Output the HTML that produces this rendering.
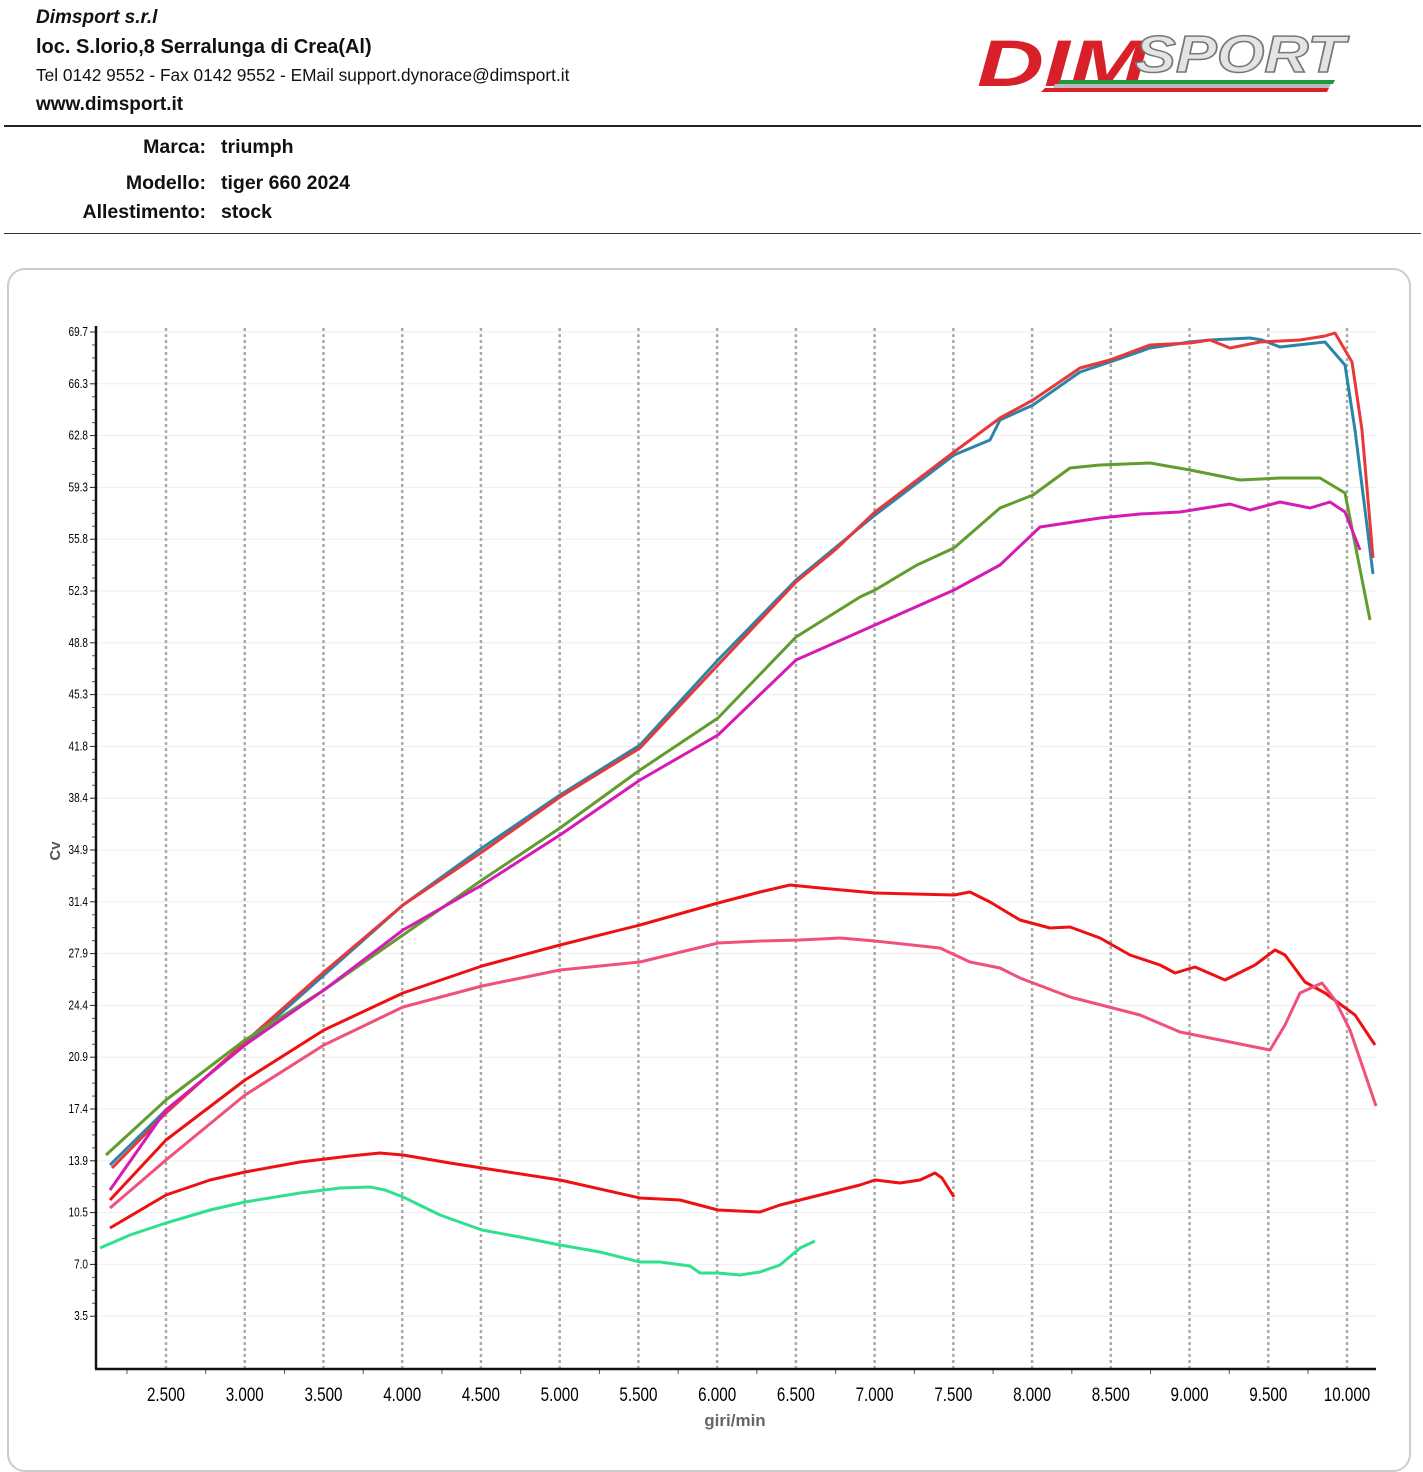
<!DOCTYPE html>
<html><head><meta charset="utf-8"><style>
body{margin:0;width:1423px;height:1440px;background:#fff;position:relative;overflow:hidden;font-family:"Liberation Sans",sans-serif;color:#111}
.t{position:absolute;white-space:nowrap}
</style></head><body>
<div class="t" style="left:36px;top:7px;font-size:19px;font-weight:bold;font-style:italic">Dimsport s.r.l</div>
<div class="t" style="left:36px;top:36px;font-size:20px;font-weight:bold">loc. S.lorio,8 Serralunga di Crea(Al)</div>
<div class="t" style="left:36px;top:65px;font-size:17.3px">Tel 0142 9552 - Fax 0142 9552 - EMail support.dynorace@dimsport.it</div>
<div class="t" style="left:36px;top:94px;font-size:19px;font-weight:bold">www.dimsport.it</div>
<svg style="position:absolute;left:975px;top:22px" width="380" height="75">
<text x="2" y="64" font-family="Liberation Sans" font-weight="bold" font-style="italic" font-size="66" fill="#d8202a" textLength="170" lengthAdjust="spacingAndGlyphs">DIM</text>
<text x="160" y="50" font-family="Liberation Sans" font-weight="bold" font-style="italic" font-size="52" fill="#e4e4e4" stroke="#777" stroke-width="1.5" textLength="210" lengthAdjust="spacingAndGlyphs">SPORT</text>
<polygon points="85,58 360,58 358,62 83,62" fill="#1f9a3a"/>
<polygon points="80,62 356,62 354,66 78,66" fill="#bbb"/>
<polygon points="70,66 354,66 352,70 66,70" fill="#d8202a"/>
</svg>
<div style="position:absolute;left:4px;top:125px;width:1417px;height:2px;background:#222"></div>
<div class="t" style="left:0;width:206px;text-align:right;top:136px;font-size:19.5px;font-weight:bold">Marca:</div>
<div class="t" style="left:221px;top:136px;font-size:19.5px;font-weight:bold">triumph</div>
<div class="t" style="left:0;width:206px;text-align:right;top:172px;font-size:19.5px;font-weight:bold">Modello:</div>
<div class="t" style="left:221px;top:172px;font-size:19.5px;font-weight:bold">tiger 660 2024</div>
<div class="t" style="left:0;width:206px;text-align:right;top:201px;font-size:19.5px;font-weight:bold">Allestimento:</div>
<div class="t" style="left:221px;top:201px;font-size:19.5px;font-weight:bold">stock</div>
<div style="position:absolute;left:4px;top:233px;width:1417px;height:1px;background:#333"></div>
<div style="position:absolute;left:7px;top:268px;width:1400px;height:1200px;border:2px solid #ccc;border-radius:18px"></div>
<svg id="c" style="position:absolute;left:0;top:0" width="1423" height="1440" font-family="Liberation Sans"></svg>
<script>
const s=document.getElementById('c');let h='';
const yv=[69.7,66.3,62.8,59.3,55.8,52.3,48.8,45.3,41.8,38.4,34.9,31.4,27.9,24.4,20.9,17.4,13.9,10.5,7.0,3.5];
yv.forEach((v,i)=>{const y=332+i*51.8;h+=`<line x1="96" y1="${y}" x2="1376" y2="${y}" stroke="#eee"/><line x1="90" y1="${y}" x2="96" y2="${y}" stroke="#222"/><text x="88" y="${y+4}" font-size="12.5" text-anchor="end" transform="scale(0.8,1)" style="transform-origin:88px ${y}px">${v.toFixed(1)}</text>`;
for(let k=1;k<4&&i<19;k++){const yy=y+k*12.95;h+=`<line x1="92" y1="${yy}" x2="96" y2="${yy}" stroke="#555"/>`;}});
for(let r=2500;r<=10000;r+=500){const x=166+(r-2500)*0.15747;h+=`<line x1="${x}" y1="328" x2="${x}" y2="1368" stroke="#aaa" stroke-width="2.5" stroke-dasharray="3,3"/><text x="${x}" y="1401" font-size="19" text-anchor="middle" transform="scale(0.8,1)" style="transform-origin:${x}px 1400px">${(r/1000).toFixed(3)}</text><line x1="${x-39}" y1="1369" x2="${x-39}" y2="1374" stroke="#555"/>`;}
h+=`<line x1="96" y1="326" x2="96" y2="1369" stroke="#111" stroke-width="2.5"/><line x1="95" y1="1369" x2="1376" y2="1369" stroke="#111" stroke-width="2.5"/>`;
h+=`<text x="735" y="1426" font-size="17" font-weight="bold" fill="#666" text-anchor="middle">giri/min</text><text x="60" y="851" font-size="15" font-weight="bold" fill="#555" text-anchor="middle" transform="rotate(-90 60 851)">Cv</text>`;
const L=(c,p)=>{h+=`<polyline fill="none" stroke="${c}" stroke-width="3" stroke-linejoin="round" points="${p}"/>`;};
L('#2a86a8','110,1165 166,1110 245,1045 324,975 403,905 482,848 560,795 640,745 718,660 796,580 875,515 954,455 990,440 1000,420 1033,405 1080,372 1110,362 1150,348 1190,342 1210,340 1250,338 1262,340 1280,347 1325,342 1345,365 1355,430 1373,574');
L('#e8383c','112,1168 166,1113 245,1042 324,972 403,905 482,852 560,797 640,748 718,665 796,582 835,550 875,512 954,452 1000,418 1033,400 1080,368 1110,360 1150,345 1190,343 1210,340 1230,348 1260,342 1300,340 1325,336 1335,333 1352,362 1362,430 1373,558');
L('#5f9e2e','106,1155 166,1100 245,1040 324,990 403,935 482,880 560,828 640,770 718,718 796,637 860,597 875,590 917,565 954,548 1000,508 1033,495 1070,468 1100,465 1150,463 1190,470 1240,480 1280,478 1320,478 1345,493 1370,620');
L('#d61bb5','110,1190 166,1110 245,1045 324,990 403,930 482,885 560,835 640,780 718,735 796,660 875,625 954,590 1000,565 1040,527 1100,518 1140,514 1180,512 1230,504 1250,510 1280,502 1310,508 1330,502 1345,512 1360,550');
L('#ee1111','110,1200 166,1140 245,1080 324,1030 403,993 482,966 560,945 640,925 718,903 760,892 790,885 820,888 875,893 954,895 970,892 990,902 1020,920 1050,928 1070,927 1100,938 1130,955 1160,965 1175,973 1195,967 1225,980 1255,965 1275,950 1285,955 1305,982 1325,993 1355,1015 1375,1045');
L('#f0507a','110,1208 166,1160 245,1095 324,1045 403,1007 482,986 560,970 640,962 718,943 760,941 800,940 840,938 875,941 940,948 970,962 1000,968 1020,978 1070,997 1140,1015 1180,1032 1270,1050 1285,1025 1300,993 1322,983 1335,1000 1350,1030 1376,1106');
L('#ee1111','110,1228 166,1195 210,1180 245,1172 300,1162 350,1156 380,1153 403,1155 450,1163 482,1168 560,1180 640,1198 680,1200 718,1210 760,1212 780,1205 820,1195 860,1185 875,1180 900,1183 920,1180 935,1173 942,1178 954,1197');
L('#2fe08e','100,1248 130,1235 166,1223 210,1210 245,1202 300,1193 340,1188 370,1187 385,1190 403,1197 440,1215 482,1230 520,1237 560,1245 600,1252 640,1262 660,1262 690,1266 700,1273 718,1273 740,1275 760,1272 780,1265 800,1248 815,1241');
s.innerHTML=h;
</script>
</body></html>
